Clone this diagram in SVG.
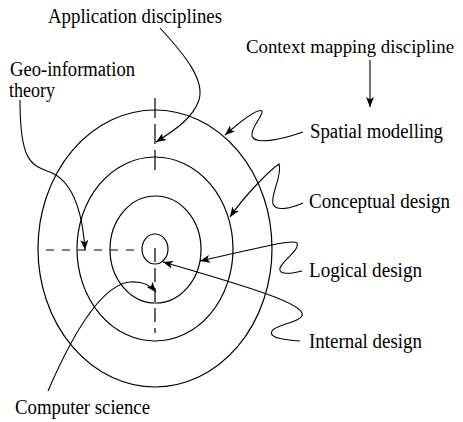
<svg xmlns="http://www.w3.org/2000/svg" width="463" height="422" viewBox="0 0 463 422">
<defs>
<marker id="ah" viewBox="0 0 10 8" refX="10" refY="4" markerWidth="10" markerHeight="8" markerUnits="userSpaceOnUse" orient="auto">
<path d="M0,0 L10,4 L0,8 L2.5,4 Z" fill="#000"/>
</marker>
</defs>
<style>
.t{font-family:"Liberation Serif","Times New Roman",serif;font-size:20px;fill:#000}
.c{fill:none;stroke:#000;stroke-width:1.2}
.d{fill:none;stroke:#000;stroke-width:1.2}
.a{fill:none;stroke:#000;stroke-width:1.1;marker-end:url(#ah)}
</style>
<rect width="463" height="422" fill="#fff"/>
<g id="rings">
<ellipse id="spatial-ring" class="c" cx="155" cy="248.5" rx="117" ry="138.5"/>
<ellipse id="conceptual-ring" class="c" cx="155" cy="249" rx="78" ry="92"/>
<ellipse id="logical-ring" class="c" cx="155.5" cy="249.5" rx="45.5" ry="53.5"/>
<ellipse id="internal-ring" class="c" cx="155" cy="249" rx="13" ry="15"/>
</g>
<g id="axes">
<line class="d" x1="155" y1="98" x2="155" y2="170" stroke-dasharray="20,6"/>
<line class="d" x1="155" y1="248" x2="155" y2="333" stroke-dasharray="14,6"/>
<line class="d" x1="46" y1="250" x2="134" y2="250" stroke-dasharray="8,8"/>
</g>
<g id="labels">
<text id="application" class="t" x="48" y="23" textLength="174" lengthAdjust="spacingAndGlyphs">Application disciplines</text>
<text id="geo" class="t" x="10" y="76" textLength="125" lengthAdjust="spacingAndGlyphs">Geo-information</text>
<text id="geo2" class="t" x="9" y="97" textLength="46" lengthAdjust="spacingAndGlyphs">theory</text>
<text id="context" class="t" x="246" y="53" style="font-size:18.8px" textLength="208" lengthAdjust="spacingAndGlyphs">Context mapping discipline</text>
<text id="spatial" class="t" x="310" y="138" textLength="133" lengthAdjust="spacingAndGlyphs">Spatial modelling</text>
<text id="conceptual" class="t" x="309" y="208" textLength="141" lengthAdjust="spacingAndGlyphs">Conceptual design</text>
<text id="logical" class="t" x="309" y="277" textLength="113" lengthAdjust="spacingAndGlyphs">Logical design</text>
<text id="internal" class="t" x="309" y="348" textLength="113" lengthAdjust="spacingAndGlyphs">Internal design</text>
<text id="computer" class="t" x="15" y="414" textLength="135" lengthAdjust="spacingAndGlyphs">Computer science</text>
</g>
<g id="connectors">
<path class="a" d="M160,28 C185,55 205,80 199,100 C193,118 175,130 156,142"/>
<path class="a" d="M20,100 C20,160 30,165 50,172 C70,180 82,205 85,250"/>
<path class="a" d="M48,391 C70,340 100,285 130,282 C143,281 150,285 156,292"/>
<path class="a" d="M370,60 L370,107"/>
<path class="a" d="M303,132 C280,140 255,145 252,136 C250,128 264,115 262,111 C258,108 240,122 225,135"/>
<path class="a" d="M303,203 C292,208 276,212 273,204 C270,195 283,175 279,164 C270,170 245,195 230,217"/>
<path class="a" d="M302,271 C290,274 278,275 280,268 C283,260 300,250 297,243 C294,239 270,245 200,261"/>
<path class="a" d="M300,341 C285,340 268,338 272,331 C276,324 305,322 302,313 C298,303 260,290 163,262"/>
</g>
</svg>
